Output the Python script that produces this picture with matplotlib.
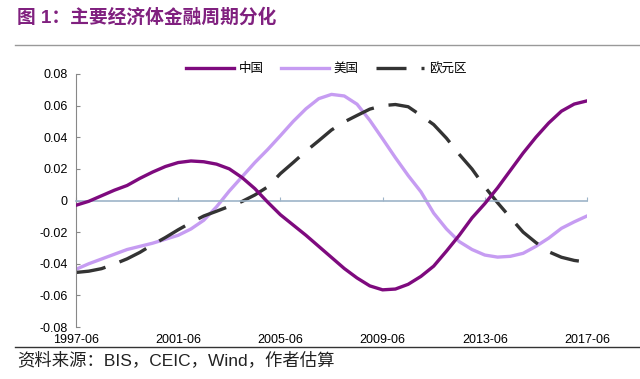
import matplotlib
matplotlib.use('Agg')
import matplotlib.pyplot as plt
from matplotlib.lines import Line2D
from matplotlib.ticker import FuncFormatter

plt.rcParams['font.family'] = ['Liberation Sans', 'Noto Sans CJK SC', 'DejaVu Sans']

# half-year steps, 1997-06 .. 2017-06
years = [1997.5 + 0.5 * i for i in range(41)]

china = [-0.003, -0.0005, 0.003, 0.0065, 0.0095, 0.014, 0.018, 0.0215, 0.024, 0.025,
         0.0245, 0.023, 0.020, 0.0145, 0.0075, -0.001, -0.009, -0.0155, -0.022, -0.029,
         -0.036, -0.043, -0.049, -0.054, -0.0565, -0.056, -0.053, -0.048, -0.0415, -0.032,
         -0.022, -0.011, -0.002, 0.008, 0.019, 0.030, 0.040, 0.049, 0.0565, 0.061, 0.063]

usa = [-0.0435, -0.040, -0.037, -0.034, -0.031, -0.029, -0.027, -0.0245, -0.022, -0.018,
       -0.0125, -0.004, 0.006, 0.015, 0.024, 0.0322, 0.041, 0.050, 0.058, 0.0644,
       0.0671, 0.0661, 0.0609, 0.0507, 0.039, 0.0271, 0.0158, 0.0055, -0.008, -0.018,
       -0.026, -0.031, -0.0345, -0.0358, -0.0353, -0.0334, -0.029, -0.0238, -0.0176, -0.0135, -0.0098]

euro = [-0.0455, -0.0447, -0.0431, -0.0402, -0.0369, -0.0328, -0.0279, -0.0234, -0.0185, -0.014,
        -0.0098, -0.0068, -0.0037, -0.0006, 0.0035, 0.0086, 0.017, 0.024, 0.0312, 0.0378,
        0.0446, 0.0497, 0.0538, 0.0578, 0.060, 0.0607, 0.0593, 0.0538, 0.048, 0.0394,
        0.0292, 0.0199, 0.0086, -0.0014, -0.0108, -0.020, -0.0266, -0.0324, -0.0359, -0.0379, -0.039]

xticks = [1997.5, 2001.5, 2005.5, 2009.5, 2013.5, 2017.5]
xlabels = ['1997-06', '2001-06', '2005-06', '2009-06', '2013-06', '2017-06']
yticks = [-0.08, -0.06, -0.04, -0.02, 0, 0.02, 0.04, 0.06, 0.08]

fig = plt.figure(figsize=(6.4, 3.79), dpi=100)
ax = fig.add_axes([76 / 640, 1 - 327 / 379, 511 / 640, 253 / 379])

ax.plot(years, china, color='#7E0A7E', lw=2.4, label='中国', zorder=3, solid_joinstyle='round')
ax.plot(years, usa, color='#C69CF2', lw=2.4, label='美国', zorder=2, solid_joinstyle='round')
ax.plot(years, euro, color='#333333', lw=2.4, dashes=(9, 4.5), label='欧元区', zorder=2,
        dash_joinstyle='round')

ax.set_xlim(1997.5, 2017.5)
ax.set_ylim(-0.08, 0.08)
ax.set_yticks(yticks)
ax.yaxis.set_major_formatter(FuncFormatter(lambda v, p: '0' if abs(v) < 1e-9 else '%.2f' % v))
ax.tick_params(axis='y', direction='in', length=3, color='#888888', labelsize=9, pad=6)

# x axis line sits on zero, labels stay at the bottom
for s in ['top', 'right']:
    ax.spines[s].set_visible(False)
ax.spines['left'].set_color('#888888')
ax.spines['bottom'].set_position(('data', 0))
ax.spines['bottom'].set_color('#9DB4C8')
ax.spines['bottom'].set_linewidth(1.2)
ax.set_xticks(xticks)
ax.tick_params(axis='x', direction='in', length=3, color='#9DB4C8', labelbottom=False)

sec = ax.secondary_xaxis('bottom')
sec.set_xticks(xticks)
sec.set_xticklabels(xlabels)
sec.spines['bottom'].set_visible(False)
sec.tick_params(length=0, labelsize=9, pad=5)

leg = ax.legend(loc='center', bbox_to_anchor=(0.49, 1.02), ncol=3, frameon=False,
                fontsize=9, handlelength=3.8, handletextpad=0.4, columnspacing=1.4)

fig.text(17 / 640, 1 - 17 / 379, '图 1：主要经济体金融周期分化', color='#80207F',
         fontsize=13.5, fontweight='bold', va='center', ha='left')
fig.add_artist(Line2D([15 / 640, 1], [1 - 45 / 379] * 2, transform=fig.transFigure,
                      color='#999999', lw=1))
fig.add_artist(Line2D([15 / 640, 1], [1 - 347 / 379] * 2, transform=fig.transFigure,
                      color='#333333', lw=1))
fig.text(17 / 640, 1 - 360 / 379, '资料来源：BIS，CEIC，Wind，作者估算', color='#222222',
         fontsize=12.5, va='center', ha='left')

fig.savefig('out.png', dpi=100)
